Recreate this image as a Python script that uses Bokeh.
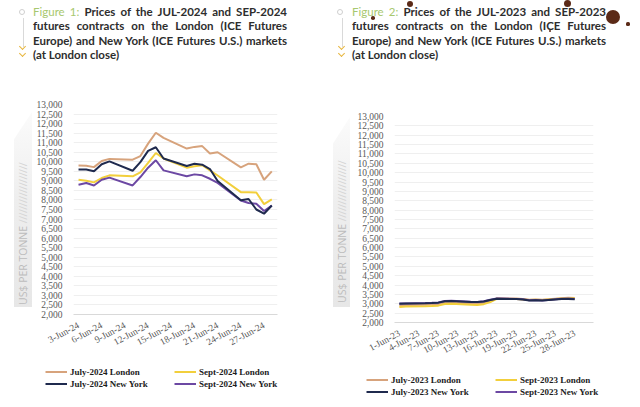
from bokeh.plotting import figure
from bokeh.models import (Div, Legend, LegendItem, FixedTicker, NumeralTickFormatter, Range1d)
from bokeh.layouts import row, column
from bokeh.embed import file_html
from bokeh.resources import INLINE

# ---------------- data ----------------
# Figure 1: June 2024 (day of month)
days_2024 = [3, 4, 5, 6, 7, 10, 11, 12, 13, 14, 17, 18, 19, 20, 21, 24, 25, 26, 27, 28]
jul24_london = [9800, 9790, 9720, 10040, 10150, 10110, 10300, 10950, 11520, 11250,
                10690, 10780, 10820, 10430, 10500, 9710, 9900, 9870, 9060, 9500]
sep24_london = [9060, 9010, 8920, 9150, 9290, 9240, 9450, 9940, 10460, 10170,
                9690, 9760, 9820, 9550, 9280, 8410, 8410, 8390, 7780, 8030]
jul24_ny = [9590, 9590, 9500, 9870, 10020, 9530, 9980, 10570, 10760, 10170,
            9780, 9900, 9850, 9620, 8990, 7980, 8050, 7500, 7280, 7710]
sep24_ny = [8800, 8890, 8760, 9060, 9170, 8760, 9200, 9690, 10080, 9550,
            9240, 9340, 9290, 9110, 8890, 7970, 7840, 7800, 7420, 7700]
ticks_2024 = [3, 6, 9, 12, 15, 18, 21, 24, 27]
tick_labels_2024 = ["3-Jun-24", "6-Jun-24", "9-Jun-24", "12-Jun-24", "15-Jun-24",
                    "18-Jun-24", "21-Jun-24", "24-Jun-24", "27-Jun-24"]
names_2024 = ["July-2024 London", "Sept-2024 London", "July-2024 New York", "Sept-2024 New York"]

# Figure 2: June 2023 (day of month)
days_2023 = [1, 2, 5, 6, 7, 8, 9, 12, 13, 14, 15, 16, 19, 20, 21, 22, 23, 26, 27, 28]
jul23_london = [2920, 2930, 2950, 2960, 2980, 3060, 3070, 3020, 3010, 3050,
                3150, 3290, 3280, 3260, 3220, 3230, 3220, 3300, 3320, 3310]
sep23_london = [2830, 2850, 2870, 2880, 2900, 2990, 3000, 2950, 2940, 2980,
                3090, 3260, 3250, 3230, 3200, 3210, 3200, 3280, 3300, 3290]
jul23_ny = [3000, 3010, 3030, 3040, 3060, 3140, 3150, 3100, 3090, 3120,
            3200, 3270, 3250, 3230, 3180, 3190, 3170, 3260, 3250, 3240]
sep23_ny = [3010, 3020, 3040, 3050, 3070, 3150, 3160, 3110, 3100, 3130,
            3210, 3280, 3260, 3240, 3190, 3200, 3180, 3270, 3280, 3260]
ticks_2023 = [1, 4, 7, 10, 13, 16, 19, 22, 25, 28]
tick_labels_2023 = ["1-Jun-23", "4-Jun-23", "7-Jun-23", "10-Jun-23", "13-Jun-23",
                    "16-Jun-23", "19-Jun-23", "22-Jun-23", "25-Jun-23", "28-Jun-23"]
names_2023 = ["July-2023 London", "Sept-2023 London", "July-2023 New York", "Sept-2023 New York"]

y_tick_values = list(range(2000, 13001, 500))
y_axis_title = "US$ PER TONNE"

series_colors = ["#d7a37c", "#f2cf3c", "#1f2a4e", "#6c48a3"]
draw_order = [0, 1, 3, 2]
NAN = float("nan")


def build_chart(days, series, ticks, tick_labels, x_start, x_end, geom):
    left, fw, right, top, fh, bottom = geom
    p = figure(width=left + fw + right, height=top + fh + bottom,
               min_border_left=left, min_border_right=right,
               min_border_top=top, min_border_bottom=bottom,
               x_range=Range1d(x_start, x_end), y_range=Range1d(2000, 13000),
               output_backend="svg", toolbar_location=None, tools="")
    p.outline_line_color = None
    p.background_fill_color = "white"
    p.border_fill_color = "white"

    p.xgrid.grid_line_color = None
    p.ygrid.grid_line_color = "#efefef"

    p.yaxis.ticker = FixedTicker(ticks=y_tick_values)
    p.yaxis.formatter = NumeralTickFormatter(format="0,0")
    p.yaxis.axis_line_color = None
    p.yaxis.major_tick_line_color = None
    p.yaxis.minor_tick_line_color = None
    p.yaxis.major_label_standoff = 5
    p.xaxis.ticker = FixedTicker(ticks=ticks)
    p.xaxis.major_label_overrides = {t: lab for t, lab in zip(ticks, tick_labels)}
    p.xaxis.major_label_orientation = 0.5
    p.xaxis.axis_line_color = "#d9d9d9"
    p.xaxis.major_tick_line_color = None
    p.xaxis.minor_tick_line_color = None
    p.xaxis.major_label_standoff = 4
    for ax in (p.xaxis, p.yaxis):
        ax.major_label_text_font = "Liberation Serif"
        ax.major_label_text_font_size = "9.5px"
        ax.major_label_text_color = "#595959"

    for i in draw_order:
        p.line(days, series[i], line_color=series_colors[i], line_width=2)
    return p


def build_legend(names, width, height, loc):
    q = figure(width=width, height=height, x_range=Range1d(0, width), y_range=Range1d(0, height),
               x_axis_type=None, y_axis_type=None, min_border=0,
               output_backend="svg", toolbar_location=None, tools="")
    q.outline_line_color = None
    q.background_fill_color = "white"
    q.border_fill_color = "white"
    # legend proxies: no visible data, only their line style is shown in the legend
    rends = [q.line(x=[NAN], y=[NAN], line_color=series_colors[i], line_width=2) for i in range(4)]
    legend = Legend(items=[LegendItem(label=names[i], renderers=[rends[i]]) for i in range(4)],
                    location=loc, orientation="horizontal", ncols=2,
                    label_text_font="Liberation Serif", label_text_font_style="bold",
                    label_text_font_size="9px", label_text_color="#1c1c1c",
                    glyph_width=22, glyph_height=11, label_height=11, label_width=103,
                    label_standoff=3, spacing=1, padding=0, margin=0,
                    border_line_color=None, background_fill_alpha=0)
    q.add_layout(legend)
    return q


def title_html(num, year, icon_x, text_x, extra=""):
    lines = [
        f'<span style="color:#a8c86e;font-weight:normal;">Figure {num}:</span> Prices of the JUL-{year} and SEP-{year}',
        'futures contracts on the London (ICE Futures',
        'Europe) and New York (ICE Futures U.S.) markets',
    ]
    just = 'text-align:justify;text-align-last:justify;white-space:nowrap;'
    body = "".join(f'<div style="{just}">{ln}</div>' for ln in lines)
    body += '<div style="white-space:nowrap;">(at London close)</div>'
    chev = ('position:absolute;width:5px;height:5px;border-right:1.6px solid #e7b53d;'
            'border-bottom:1.6px solid #e7b53d;transform:rotate(45deg);')
    return (
        '<div style="position:relative;width:320px;height:70px;">'
        f'<div style="position:absolute;left:{icon_x - 4.5}px;top:8.8px;width:6px;height:6px;'
        'border:1.5px solid #cfcfcf;border-radius:50%;"></div>'
        f'<div style="position:absolute;left:{icon_x}px;top:18px;width:0;height:29px;'
        'border-left:1px solid #d9d9d9;"></div>'
        f'<div style="{chev}left:{icon_x - 3}px;top:44px;"></div>'
        f'<div style="{chev}left:{icon_x - 3}px;top:51px;"></div>'
        f'<div style="position:absolute;left:{text_x}px;top:4.5px;width:254px;'
        'font-family:Lato;font-size:11.5px;line-height:14.5px;font-weight:bold;color:#2d2d2d;">'
        f'{body}</div>{extra}</div>'
    )


def band_html(width, height, bx, bw, btop, bbottom, text_y):
    return (
        f'<div style="position:relative;width:{width}px;height:{height}px;">'
        f'<div style="position:absolute;left:{bx}px;top:{btop}px;width:{bw}px;height:{bbottom - btop}px;'
        'background:linear-gradient(to bottom,#fbfbfb 0%,#eeeeee 45%,#e7e7e7 100%);'
        'clip-path:polygon(0 14%,100% 0,100% 100%,0 100%);"></div>'
        f'<div style="position:absolute;left:{bx + bw / 2}px;top:{text_y}px;transform-origin:0 0;'
        'transform:rotate(-90deg) translateY(-50%);white-space:nowrap;font-family:\'Open Sans\';'
        'font-size:10.5px;line-height:12px;color:#bcbcbc;">'
        f'{y_axis_title} <span style="color:#d5d5d5;letter-spacing:-0.5px;">{"/" * 18}</span></div>'
        '</div>'
    )


def spot(x, y, r):
    return (f'<div style="position:absolute;left:{x - r}px;top:{y - r}px;width:{2 * r}px;'
            f'height:{2 * r}px;border-radius:50%;background:#5b2a17;"></div>')


def bottom_rule(x0, x1, y):
    return (f'<div style="position:absolute;left:{x0}px;top:{y}px;width:{x1 - x0}px;height:0;'
            'border-top:1px solid #ececec;"></div>')


spots = spot(293, 17, 7) + spot(247, 3, 3.5) + spot(90, 4, 3) + spot(308, 24, 1.6) + \
        spot(53, 18, 1.8) + spot(230, 31, 1.4)

title1 = Div(text=title_html(1, 2024, 23.3, 33), width=320, height=70, margin=(0, 0, 0, 0))
title2 = Div(text=title_html(2, 2023, 21.7, 32, spots), width=320, height=70, margin=(0, 0, 0, 0))
band1 = Div(text=band_html(33, 285, 14, 18, 42, 237, 235), width=33, height=285, margin=(0, 0, 0, 0))
band2 = Div(text=band_html(34, 292, 13, 17, 47, 237, 233), width=34, height=292, margin=(0, 0, 0, 0))

p1 = build_chart(days_2024, [jul24_london, sep24_london, jul24_ny, sep24_ny],
                 ticks_2024, tick_labels_2024, 2.35, 28.74,
                 (40, 204, 43, 34, 210, 41))
p2 = build_chart(days_2023, [jul23_london, sep23_london, jul23_ny, sep23_ny],
                 ticks_2023, tick_labels_2023, 0.25, 30.9,
                 (36, 203, 47, 46, 208, 38))
leg1 = build_legend(names_2024, 320, 52, (45, 18))
leg2 = build_legend(names_2023, 320, 45, (46, 10))

layout = row(column(title1, row(band1, p1), leg1), column(title2, row(band2, p2), leg2))

open("out.html", "w").write(file_html(layout, INLINE))
